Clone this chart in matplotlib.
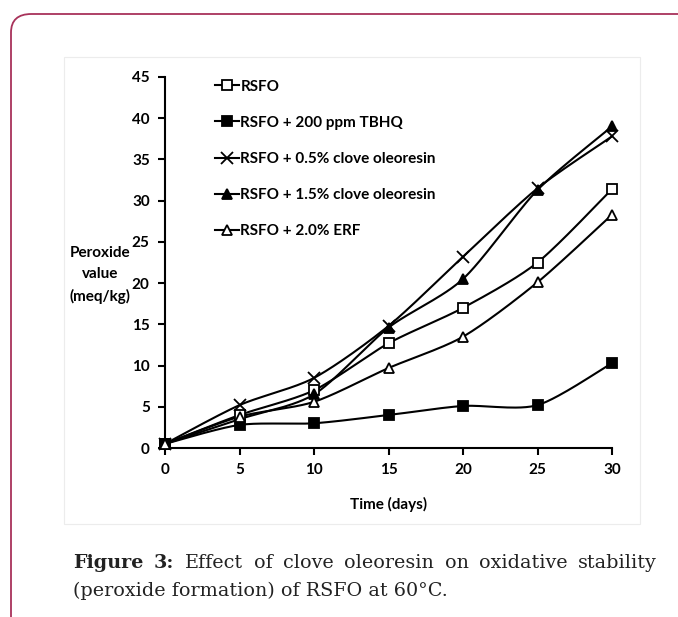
import numpy as np
import matplotlib
matplotlib.use("Agg")
import matplotlib.pyplot as plt
from matplotlib.patches import FancyBboxPatch, Rectangle
from matplotlib.lines import Line2D

days = [0, 5, 10, 15, 20, 25, 30]
rsfo = [0.5, 4.0, 7.0, 12.7, 17.0, 22.5, 31.4]
tbhq = [0.5, 2.8, 3.0, 4.0, 5.1, 5.2, 10.3]
clove05 = [0.5, 5.2, 8.5, 14.8, 23.2, 31.5, 37.8]
clove15 = [0.5, 3.5, 6.5, 14.6, 20.5, 31.3, 39.0]
erf = [0.5, 3.8, 5.6, 9.7, 13.5, 20.1, 28.3]

labels = ["RSFO", "RSFO + 200 ppm TBHQ", "RSFO + 0.5% clove oleoresin",
          "RSFO + 1.5% clove oleoresin", "RSFO + 2.0% ERF"]
series = [rsfo, tbhq, clove05, clove15, erf]
markers = [("s", "white", 7), ("s", "black", 7), ("x", "black", 8),
           ("^", "black", 7), ("^", "white", 7)]

font = ["Lato", "DejaVu Sans"]
fs = 11


def smooth(x, y, n=30, k=0.4):
    # cardinal spline, close to excel's smoothed lines
    x = np.asarray(x, float)
    y = np.asarray(y, float)
    px = np.concatenate([[x[0]], x, [x[-1]]])
    py = np.concatenate([[y[0]], y, [y[-1]]])
    t = np.linspace(0, 1, n)
    h00 = 2 * t**3 - 3 * t**2 + 1
    h10 = t**3 - 2 * t**2 + t
    h01 = -2 * t**3 + 3 * t**2
    h11 = t**3 - t**2
    xs, ys = [], []
    for i in range(1, len(px) - 2):
        for arr, p in ((xs, px), (ys, py)):
            m1 = k * (p[i + 1] - p[i - 1])
            m2 = k * (p[i + 2] - p[i])
            arr.extend(h00 * p[i] + h10 * m1 + h01 * p[i + 1] + h11 * m2)
    return np.array(xs), np.array(ys)


fig = plt.figure(figsize=(6.78, 6.17), dpi=100)
W, H = 678, 617

# outer card frame
frame = FancyBboxPatch((11 / W, -40 / H), 720 / W, (617 - 14 + 40) / H,
                       boxstyle="round,pad=0,rounding_size=0.03",
                       transform=fig.transFigure, fill=False,
                       edgecolor="#a8325a", linewidth=1.3, clip_on=False)
fig.patches.append(frame)
fig.patches.append(Rectangle((64 / W, 1 - 524 / H), 576 / W, 467 / H,
                             transform=fig.transFigure, fill=False,
                             edgecolor="#ececec", linewidth=0.8))

ax = fig.add_axes([165 / W, 1 - 448 / H, 447 / W, 371 / H])
ax.patch.set_alpha(0)

for vals, (m, fc, ms), lab in zip(series, markers, labels):
    sx, sy = smooth(days, vals)
    ax.plot(sx, sy, color="black", lw=1.5, clip_on=False)
    ax.plot(days, vals, linestyle="none", marker=m, markersize=ms,
            markerfacecolor=fc, markeredgecolor="black", markeredgewidth=1.3,
            clip_on=False, zorder=3)

ax.set_xlim(0, 30)
ax.set_ylim(0, 45)
ax.set_xticks(range(0, 31, 5))
ax.set_yticks(range(0, 46, 5))
for s in ["top", "right"]:
    ax.spines[s].set_visible(False)
for s in ["left", "bottom"]:
    ax.spines[s].set_linewidth(1.5)
ax.tick_params(direction="out", length=5, width=1.5, labelsize=fs, pad=6)
for lbl in ax.get_xticklabels() + ax.get_yticklabels():
    lbl.set_family(font)
    lbl.set_fontweight("bold")

ax.set_xlabel("Time (days)", family=font, fontweight="bold", fontsize=fs,
              labelpad=14)
fig.text(100 / W, 1 - 275 / H, "Peroxide\nvalue\n(meq/kg)", family=font,
         fontweight="bold", fontsize=fs, ha="center", va="center",
         linespacing=1.65)

handles = [Line2D([0], [0], color="black", lw=1.5, marker=m, markersize=ms,
                  markerfacecolor=fc, markeredgecolor="black",
                  markeredgewidth=1.3)
           for (m, fc, ms) in markers]
leg = ax.legend(handles, labels, loc="upper left",
                bbox_to_anchor=(0.08, 1.03), frameon=False,
                handlelength=1.6, handletextpad=0.1, labelspacing=1.45,
                prop={"family": font, "weight": "bold", "size": fs})

# caption; size the serif font so line 2 spans about 372 px like the original
cfam = "DejaVu Serif"
ccol = "#222222"
renderer = fig.canvas.get_renderer()
line2 = fig.text(73 / W, 1 - 591 / H, "(peroxide formation) of RSFO at 60°C.",
                 fontsize=13, family=cfam, va="center", color=ccol)
cfs = 13 * 372 / line2.get_window_extent(renderer).width
line2.set_fontsize(cfs)

# first line justified between x=73 and x=657
cap_words = [("Figure", "bold"), ("3:", "bold"), ("Effect", "normal"),
             ("of", "normal"), ("clove", "normal"), ("oleoresin", "normal"),
             ("on", "normal"), ("oxidative", "normal"), ("stability", "normal")]
texts = []
total = 0
for w, wt in cap_words:
    t = fig.text(0, 1 - 563 / H, w, fontsize=cfs, family=cfam, fontweight=wt,
                 va="center", color=ccol)
    bb = t.get_window_extent(renderer)
    texts.append((t, bb.width))
    total += bb.width
gap = (584 - total) / (len(cap_words) - 1)
xpos = 73
for t, wd in texts:
    t.set_x(xpos / W)
    xpos += wd + gap

fig.savefig("out.png", dpi=100)
